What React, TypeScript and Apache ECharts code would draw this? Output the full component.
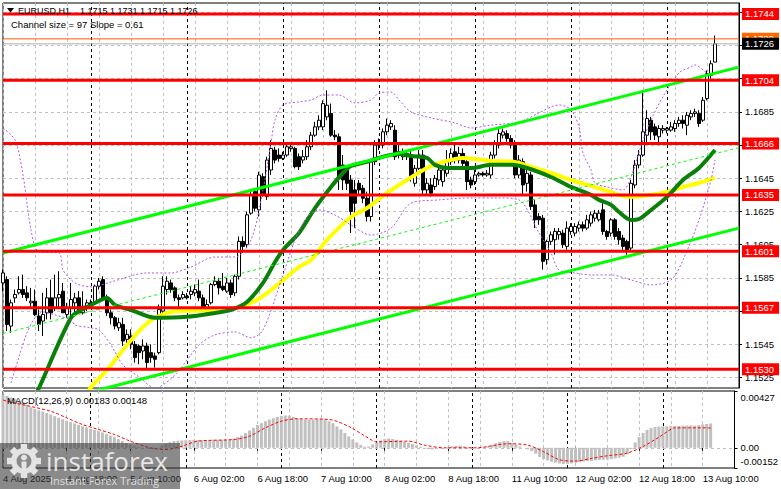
import React, { useEffect, useRef } from 'react';
import * as echarts from 'echarts';

const FONT = "'Liberation Sans', Arial, sans-serif";

// trading sessions: [day of Aug, first hour, last hour]
const sessionDays: [number, number, number][] = [
  [4, 2, 23], [5, 0, 23], [6, 0, 23], [7, 0, 23], [8, 0, 23], [11, 0, 23], [12, 0, 23], [13, 0, 18],
];
const categories: string[] = [];
sessionDays.forEach(([d, a, b]) => {
  for (let h = a; h <= b; h++) categories.push(`${d} Aug ${String(h).padStart(2, '0')}:00`);
});
const dayStarts = categories.filter((c, i) => i > 0 && c.endsWith(' 00:00'));

const timeLabels = [
  '4 Aug 2025', '4 Aug 18:00', '5 Aug 10:00', '6 Aug 02:00', '6 Aug 18:00', '7 Aug 10:00',
  '8 Aug 02:00', '8 Aug 18:00', '11 Aug 10:00', '12 Aug 02:00', '12 Aug 18:00', '13 Aug 10:00',
];
const priceTicks = [1.1525, 1.1545, 1.1565, 1.1585, 1.1605, 1.1625, 1.1645, 1.1665, 1.1685, 1.1705, 1.1725, 1.1745];
// tick labels that are not covered by the level boxes
const priceTickLabels = [1.1525, 1.1545, 1.1585, 1.1605, 1.1625, 1.1645, 1.1685];
const levels = [1.1744, 1.1704, 1.1666, 1.1635, 1.1601, 1.1567, 1.1530];
const bidPrice = 1.1726;
const askPrice = 1.1729;
const macdTicks = [0.00427, 0, -0.00152];
const titleParts = ['EURUSD,H1', '1.1715', '1.1731', '1.1715', '1.1726'];

// [open, close, low, high]
const candles: number[][] = [
  [1.1582,1.1588,1.1577,1.1590],[1.1584,1.1557,1.1553,1.1586],[1.1556,1.1570,1.1552,1.1572],[1.1573,1.1575,1.1570,1.1578],
  [1.1576,1.1578,1.1575,1.1586],[1.1578,1.1575,1.1573,1.1587],[1.1576,1.1573,1.1571,1.1580],[1.1570,1.1571,1.1567,1.1579],
  [1.1571,1.1563,1.1562,1.1578],[1.1562,1.1557,1.1553,1.1566],[1.1559,1.1563,1.1550,1.1576],[1.1564,1.1573,1.1560,1.1579],
  [1.1573,1.1564,1.1560,1.1584],[1.1567,1.1573,1.1565,1.1587],[1.1573,1.1575,1.1567,1.1589],[1.1577,1.1564,1.1564,1.1582],
  [1.1563,1.1567,1.1561,1.1570],[1.1567,1.1572,1.1561,1.1582],[1.1570,1.1573,1.1564,1.1576],[1.1573,1.1564,1.1564,1.1577],
  [1.1564,1.1568,1.1563,1.1577],[1.1567,1.1570,1.1565,1.1572],[1.1570,1.1569,1.1567,1.1572],[1.1570,1.1580,1.1569,1.1581],
  [1.1580,1.1583,1.1578,1.1585],[1.1584,1.1572,1.1571,1.1586],[1.1573,1.1564,1.1562,1.1575],[1.1564,1.1561,1.1557,1.1566],
  [1.1561,1.1556,1.1554,1.1562],[1.1555,1.1558,1.1553,1.1561],[1.1557,1.1547,1.1544,1.1561],[1.1548,1.1551,1.1545,1.1554],
  [1.1550,1.1545,1.1542,1.1554],[1.1545,1.1537,1.1534,1.1547],[1.1544,1.1540,1.1533,1.1545],[1.1541,1.1544,1.1536,1.1548],
  [1.1544,1.1534,1.1530,1.1546],[1.1540,1.1537,1.1534,1.1545],[1.1538,1.1536,1.1531,1.1540],[1.1540,1.1566,1.1539,1.1569],
  [1.1565,1.1580,1.1563,1.1586],[1.1578,1.1583,1.1575,1.1586],[1.1582,1.1578,1.1576,1.1584],[1.1579,1.1573,1.1571,1.1580],
  [1.1573,1.1572,1.1567,1.1575],[1.1573,1.1575,1.1572,1.1577],[1.1574,1.1573,1.1572,1.1576],[1.1575,1.1577,1.1572,1.1580],
  [1.1576,1.1578,1.1574,1.1581],[1.1577,1.1573,1.1571,1.1584],[1.1573,1.1567,1.1566,1.1575],[1.1566,1.1569,1.1564,1.1572],
  [1.1570,1.1581,1.1569,1.1582],[1.1581,1.1583,1.1580,1.1586],[1.1583,1.1579,1.1575,1.1585],[1.1580,1.1578,1.1577,1.1588],
  [1.1577,1.1582,1.1576,1.1585],[1.1582,1.1575,1.1573,1.1584],[1.1576,1.1586,1.1574,1.1587],[1.1586,1.1607,1.1584,1.1610],
  [1.1607,1.1604,1.1600,1.1610],[1.1605,1.1623,1.1603,1.1625],[1.1624,1.1635,1.1623,1.1637],[1.1637,1.1627,1.1625,1.1639],
  [1.1626,1.1647,1.1622,1.1649],[1.1646,1.1635,1.1634,1.1648],[1.1634,1.1656,1.1632,1.1658],[1.1650,1.1663,1.1647,1.1668],
  [1.1662,1.1656,1.1654,1.1664],[1.1659,1.1657,1.1655,1.1663],[1.1657,1.1659,1.1656,1.1661],[1.1659,1.1664,1.1658,1.1665],
  [1.1663,1.1664,1.1661,1.1666],[1.1663,1.1652,1.1651,1.1664],[1.1658,1.1652,1.1650,1.1660],[1.1656,1.1658,1.1654,1.1662],
  [1.1658,1.1664,1.1656,1.1668],[1.1664,1.1671,1.1662,1.1673],[1.1671,1.1676,1.1670,1.1679],[1.1676,1.1680,1.1674,1.1683],
  [1.1676,1.1690,1.1674,1.1692],[1.1682,1.1689,1.1680,1.1698],[1.1684,1.1671,1.1670,1.1690],[1.1671,1.1670,1.1668,1.1674],
  [1.1670,1.1645,1.1638,1.1672],[1.1653,1.1644,1.1638,1.1659],[1.1650,1.1642,1.1638,1.1653],[1.1644,1.1625,1.1612,1.1647],
  [1.1638,1.1630,1.1615,1.1644],[1.1642,1.1638,1.1635,1.1644],[1.1639,1.1633,1.1630,1.1641],[1.1633,1.1622,1.1619,1.1637],
  [1.1622,1.1655,1.1619,1.1656],[1.1655,1.1665,1.1653,1.1668],[1.1665,1.1666,1.1662,1.1669],[1.1665,1.1673,1.1663,1.1675],
  [1.1673,1.1677,1.1671,1.1681],[1.1676,1.1678,1.1674,1.1680],[1.1674,1.1658,1.1656,1.1677],[1.1661,1.1659,1.1657,1.1665],
  [1.1658,1.1661,1.1656,1.1663],[1.1660,1.1658,1.1656,1.1662],[1.1659,1.1646,1.1643,1.1662],[1.1642,1.1651,1.1640,1.1653],
  [1.1651,1.1659,1.1650,1.1662],[1.1659,1.1638,1.1635,1.1662],[1.1638,1.1642,1.1635,1.1645],[1.1641,1.1636,1.1634,1.1645],
  [1.1640,1.1645,1.1638,1.1647],[1.1644,1.1650,1.1641,1.1653],[1.1643,1.1650,1.1640,1.1651],[1.1648,1.1656,1.1646,1.1662],
  [1.1655,1.1660,1.1653,1.1663],[1.1661,1.1656,1.1654,1.1665],[1.1656,1.1660,1.1654,1.1664],[1.1660,1.1654,1.1652,1.1663],
  [1.1655,1.1643,1.1638,1.1657],[1.1644,1.1641,1.1639,1.1646],[1.1643,1.1647,1.1641,1.1650],[1.1647,1.1648,1.1646,1.1649],
  [1.1648,1.1647,1.1646,1.1649],[1.1647,1.1648,1.1646,1.1650],[1.1647,1.1659,1.1645,1.1661],[1.1659,1.1666,1.1657,1.1668],
  [1.1665,1.1672,1.1663,1.1676],[1.1671,1.1673,1.1669,1.1675],[1.1672,1.1669,1.1667,1.1674],[1.1669,1.1665,1.1663,1.1671],
  [1.1666,1.1647,1.1645,1.1668],[1.1647,1.1656,1.1645,1.1659],[1.1655,1.1641,1.1635,1.1657],[1.1642,1.1648,1.1637,1.1650],
  [1.1647,1.1628,1.1626,1.1649],[1.1629,1.1620,1.1615,1.1632],[1.1622,1.1620,1.1617,1.1624],[1.1621,1.1595,1.1590,1.1623],
  [1.1596,1.1607,1.1593,1.1608],[1.1607,1.1611,1.1605,1.1613],[1.1608,1.1613,1.1599,1.1615],[1.1611,1.1613,1.1608,1.1615],
  [1.1612,1.1605,1.1603,1.1614],[1.1604,1.1615,1.1602,1.1619],[1.1613,1.1616,1.1611,1.1618],[1.1612,1.1616,1.1610,1.1618],
  [1.1615,1.1617,1.1613,1.1619],[1.1617,1.1615,1.1613,1.1619],[1.1615,1.1620,1.1614,1.1623],[1.1618,1.1623,1.1616,1.1625],
  [1.1621,1.1624,1.1619,1.1626],[1.1620,1.1624,1.1619,1.1626],[1.1626,1.1613,1.1611,1.1630],[1.1613,1.1610,1.1608,1.1614],
  [1.1612,1.1620,1.1610,1.1621],[1.1620,1.1610,1.1608,1.1621],[1.1613,1.1608,1.1605,1.1615],[1.1609,1.1604,1.1602,1.1611],
  [1.1607,1.1602,1.1599,1.1608],[1.1603,1.1642,1.1601,1.1644],[1.1641,1.1653,1.1639,1.1656],[1.1653,1.1659,1.1651,1.1662],
  [1.1659,1.1673,1.1658,1.1698],[1.1671,1.1681,1.1666,1.1686],[1.1680,1.1673,1.1668,1.1682],[1.1676,1.1671,1.1668,1.1678],
  [1.1670,1.1675,1.1665,1.1677],[1.1674,1.1675,1.1672,1.1677],[1.1674,1.1675,1.1672,1.1676],[1.1674,1.1676,1.1673,1.1679],
  [1.1675,1.1678,1.1673,1.1680],[1.1678,1.1680,1.1676,1.1682],[1.1680,1.1678,1.1675,1.1683],[1.1677,1.1683,1.1671,1.1685],
  [1.1682,1.1684,1.1680,1.1686],[1.1684,1.1685,1.1682,1.1687],[1.1684,1.1678,1.1676,1.1686],[1.1680,1.1692,1.1679,1.1694],
  [1.1693,1.1708,1.1692,1.1710],[1.1707,1.1714,1.1705,1.1716],[1.1715,1.1726,1.1715,1.1731],
];

// [bar index, price]
const maGreen = [
  [8,1.15145],[9,1.15187],[17,1.1561],[20,1.15663],[22,1.15687],[26,1.15729],[28,1.15687],[32,1.15657],[38,1.1561],
  [46,1.15616],[53,1.15639],[57,1.15657],[61,1.15705],[65,1.1582],[68,1.15946],[70,1.16018],[74,1.16121],[78,1.16271],
  [82,1.16398],[85,1.16482],[87,1.16524],[91,1.16549],[94,1.16573],[97,1.16591],[99,1.16597],[102,1.16585],[106,1.16573],
  [108,1.16531],[111,1.16512],[117,1.16512],[122,1.16531],[127,1.16531],[131,1.16512],[137,1.16458],[142,1.16398],
  [147,1.1635],[149,1.1632],[152,1.1629],[154,1.16247],[157,1.16199],[159,1.16205],[162,1.16259],[166,1.16338],
  [170,1.1644],[174,1.16512],[178,1.1662],
];
const maYellow = [
  [21,1.15145],[22,1.15193],[26,1.15295],[31,1.15446],[35,1.15555],[38,1.1561],[42,1.15645],[46,1.15651],[53,1.15657],
  [57,1.15663],[62,1.15699],[66,1.15759],[70,1.15837],[74,1.15916],[77,1.15958],[81,1.16079],[87,1.16217],[91,1.16271],
  [96,1.16362],[101,1.1644],[106,1.16512],[110,1.16549],[115,1.16573],[122,1.16555],[128,1.16549],[132,1.16519],
  [137,1.16482],[142,1.1644],[147,1.16404],[152,1.16368],[154,1.1635],[157,1.16338],[162,1.1635],[166,1.16368],
  [170,1.16398],[174,1.16422],[178,1.16453],
];
const bandUpper = [
  [0,1.16753],[3,1.16681],[5,1.1647],[7,1.16139],[9,1.16007],[14,1.16001],[15,1.15898],[18,1.1582],[22,1.15796],
  [27,1.15826],[36,1.1588],[42,1.1588],[47,1.15916],[53,1.15976],[58,1.15976],[62,1.16079],[65,1.1638],[67,1.16663],
  [68,1.16802],[70,1.16892],[74,1.1691],[77,1.16922],[80,1.16952],[84,1.16952],[88,1.16904],[92,1.16922],[94,1.16964],
  [97,1.1697],[99,1.16922],[102,1.1685],[107,1.16814],[113,1.16784],[117,1.16753],[122,1.16771],[129,1.16789],
  [134,1.16844],[137,1.1688],[139,1.16892],[142,1.16862],[144,1.1676],[145,1.16603],[147,1.165],[148,1.16422],
  [151,1.16398],[155,1.1638],[157,1.16458],[160,1.16681],[162,1.16802],[165,1.16942],[169,1.17085],[172,1.17121],
  [173,1.17133],[176,1.17085],[178,1.17073],
];
const bandLower = [
  [2,1.15217],[4,1.15374],[6,1.15519],[8,1.1561],[10,1.15645],[13,1.15627],[17,1.15597],[18,1.15567],[22,1.15549],
  [24,1.15537],[27,1.15446],[30,1.15326],[34,1.15254],[38,1.15187],[43,1.15266],[49,1.15446],[53,1.15507],[58,1.15525],
  [62,1.15489],[65,1.15537],[70,1.15868],[73,1.16079],[76,1.16217],[79,1.16259],[83,1.16229],[87,1.16169],[92,1.16108],
  [97,1.1615],[102,1.163],[109,1.1632],[117,1.16332],[124,1.16332],[129,1.1632],[134,1.16121],[137,1.16],[139,1.15898],
  [143,1.1588],[147,1.15868],[152,1.15868],[157,1.15838],[162,1.15808],[167,1.15838],[170,1.15958],[174,1.16199],
  [177,1.1644],[178,1.16561],
];
const channelUpper = [[0, 1.16], [184, 1.1712]];
const channelMiddle = [[0, 1.15515], [184, 1.16635]];
const channelLower = [[0, 1.1503], [184, 1.1615]];

const macdHist = [
  0.004,0.0039,0.00378,0.00365,0.00352,0.0034,0.00322,0.00305,0.00293,0.00282,0.00272,0.00262,0.0025,0.00238,0.00226,
  0.00214,0.00203,0.00193,0.00183,0.00172,0.00162,0.00153,0.00143,0.00134,0.00125,0.00115,0.00103,0.00091,0.0008,0.00065,
  0.0005,0.00037,0.00025,0.00015,0.00008,0.00002,-0.00004,-0.00008,-0.0001,-0.00002,0.00015,0.0003,0.00042,0.0005,0.00053,
  0.00055,0.00057,0.00058,0.0006,0.00058,0.00056,0.00055,0.00058,0.0006,0.0006,0.0006,0.00061,0.00063,0.00068,0.0008,
  0.00092,0.0011,0.0013,0.0015,0.00172,0.00185,0.002,0.00212,0.00222,0.00232,0.0024,0.00243,0.00242,0.00232,0.00222,
  0.00216,0.00212,0.00211,0.00212,0.00214,0.00216,0.00213,0.002,0.00185,0.0016,0.00138,0.00112,0.00085,0.00062,0.0004,
  0.00022,0.00008,0.0001,0.00025,0.0004,0.00055,0.00065,0.0007,0.00066,0.0006,0.00052,0.00045,0.00038,0.00028,0.00018,
  0.00008,-0.00004,-0.0001,-0.00012,-0.00008,-0.00004,0,0.00006,0.00011,0.00015,0.00017,0.0001,0.00003,0,0.00001,
  0.00002,0.00004,0.0001,0.0002,0.00035,0.00045,0.0005,0.0005,0.00038,0.00025,0.0001,0,-0.00012,-0.00025,-0.00045,
  -0.0007,-0.00085,-0.00095,-0.00105,-0.00112,-0.00118,-0.00121,-0.0012,-0.00117,-0.00112,-0.00108,-0.00104,-0.00101,
  -0.00099,-0.00095,-0.00092,-0.0009,-0.00088,-0.00085,-0.0008,-0.00075,-0.00068,-0.0005,-0.0001,0.0004,0.0008,0.00112,
  0.00135,0.00148,0.00156,0.0016,0.00161,0.00162,0.00162,0.00163,0.00164,0.00166,0.00167,0.00168,0.00166,0.0017,0.00176,
  0.0018,0.00183,
];
const macdSignal = [
  [0,0.0036],[1,0.0035],[12,0.00275],[16,0.00225],[20,0.00175],[24,0.00138],[28,0.001],[32,0.0005],[37,0],[41,-0.00013],
  [45,0.00012],[49,0.0005],[58,0.00062],[62,0.00087],[66,0.0015],[70,0.002],[74,0.00218],[82,0.00213],[87,0.0016],
  [91,0.0009],[94,0.00045],[102,0.0005],[106,0.0002],[111,0],[119,0],[127,0.0003],[132,0.0002],[136,-0.0003],
  [140,-0.0009],[144,-0.001],[148,-0.0008],[152,-0.0006],[157,-0.0004],[161,0.0001],[165,0.0008],[167,0.0012],
  [169,0.0015],[177,0.0015],[178,0.00148],
];

const labelText = { fontFamily: FONT, fontSize: 9.5, color: '#000' };
const dashGray = { color: '#c0c0c0', type: [3, 3], width: 1 };
const dayLineData = dayStarts.map((c) => ({ xAxis: c }));
const LAST = categories.length - 1;

function levelSeries(value: number, lineColor: string, boxColor: string, width: number, z: number) {
  return {
    type: 'line', name: `level ${value}`, xAxisIndex: 0, yAxisIndex: 0,
    data: [[0, value], [LAST, value]], showSymbol: false, silent: true, z,
    lineStyle: { color: lineColor, width, type: 'solid' },
    endLabel: {
      show: true, formatter: () => value.toFixed(4), distance: 3,
      backgroundColor: boxColor, color: '#ffffff', padding: [1, 5, 1, 3], fontFamily: FONT, fontSize: 9.5,
    },
    labelLayout: { hideOverlap: false },
  };
}

function buildGear(cx: number, cy: number) {
  const fill = '#e4e4e4';
  const teeth = Array.from({ length: 8 }, (_, k) => ({
    type: 'rect', x: cx, y: cy, rotation: (k * Math.PI) / 4,
    shape: { x: -3.2, y: -17, width: 6.4, height: 6 }, style: { fill }, z: 101,
  }));
  return [
    ...teeth,
    { type: 'ring', shape: { cx, cy, r: 13, r0: 7.5 }, style: { fill }, z: 101 },
    { type: 'circle', shape: { cx, cy: cy - 3.5, r: 3 }, style: { fill }, z: 101 },
    { type: 'rect', shape: { x: cx - 2.5, y: cy + 0.5, width: 5, height: 14 }, style: { fill }, z: 101 },
  ];
}

export default function App() {
  const ref = useRef<HTMLDivElement>(null);
  useEffect(() => {
    document.body.style.margin = '0';
    const chart = echarts.init(ref.current!, null, { renderer: 'svg' });
    const titleX = [18, 80, 110, 140, 170];
    const option: any = {
      animation: false,
      backgroundColor: '#ffffff',
      textStyle: { fontFamily: FONT },
      grid: [
        { left: 3, top: 3, width: 736, height: 385, show: true, borderColor: '#000', borderWidth: 1, backgroundColor: 'transparent' },
        { left: 3, top: 391, width: 736, height: 77, show: true, borderColor: '#000', borderWidth: 1, backgroundColor: 'transparent' },
      ],
      xAxis: [
        {
          type: 'category', gridIndex: 0, data: categories, boundaryGap: false,
          axisLine: { show: false }, axisTick: { show: false }, axisLabel: { show: false },
          splitLine: { show: true, interval: (i: number) => i % 8 === 0, lineStyle: dashGray },
        },
        {
          type: 'category', gridIndex: 1, data: categories, boundaryGap: false,
          axisLine: { show: false },
          axisTick: { show: true, interval: (i: number) => i % 16 === 0 && i <= 176, length: 3, lineStyle: { color: '#000' } },
          axisLabel: {
            ...labelText, interval: (i: number) => i % 16 === 0 && i <= 176, align: 'left', margin: 5,
            formatter: (_v: string, i: number) => timeLabels[Math.round(i / 16)] ?? '',
          },
          splitLine: { show: true, interval: (i: number) => i % 8 === 0, lineStyle: dashGray },
        },
      ],
      yAxis: [
        {
          type: 'value', gridIndex: 0, position: 'right', min: 1.15187, max: 1.17506,
          axisLine: { show: true, lineStyle: { color: '#000' } },
          axisTick: { show: true, customValues: priceTicks, length: 3, lineStyle: { color: '#000' } },
          axisLabel: { ...labelText, customValues: priceTickLabels, margin: 6, formatter: (v: number) => v.toFixed(4) },
          splitLine: { show: true, lineStyle: dashGray },
        },
        {
          type: 'value', gridIndex: 1, position: 'right', min: -0.00152, max: 0.00427,
          axisLine: { show: true, lineStyle: { color: '#000' } },
          axisTick: { show: true, customValues: macdTicks, length: 3, lineStyle: { color: '#000' } },
          axisLabel: {
            ...labelText, customValues: macdTicks, margin: 6,
            formatter: (v: number) => (v > 0.001 ? '{t|0.00427}' : v < -0.001 ? '{b|-0.00152}' : '0.00'),
            rich: {
              t: { fontFamily: FONT, fontSize: 9.5, color: '#000', padding: [12, 0, 0, 0] },
              b: { fontFamily: FONT, fontSize: 9.5, color: '#000', padding: [0, 0, 14, 0] },
            },
          },
          splitLine: { show: false },
        },
      ],
      series: [
        {
          type: 'candlestick', name: 'EURUSD', xAxisIndex: 0, yAxisIndex: 0, data: candles, barWidth: 3, z: 2,
          itemStyle: { color: '#ffffff', color0: '#000000', borderColor: '#000000', borderColor0: '#000000', borderColorDoji: '#000000', borderWidth: 1 },
          markLine: {
            silent: true, symbol: ['none', 'none'], z: 1, label: { show: false },
            lineStyle: { color: '#000', type: [3, 3], width: 1 }, data: dayLineData,
          },
        },
        {
          type: 'line', name: 'MA yellow', data: maYellow, showSymbol: false, smooth: 0.3, z: 3,
          lineStyle: { color: '#ffff00', width: 4 },
        },
        {
          type: 'line', name: 'MA green', data: maGreen, showSymbol: false, smooth: 0.3, z: 3,
          lineStyle: { color: '#0a800a', width: 4 },
        },
        {
          type: 'line', name: 'Band upper', data: bandUpper, showSymbol: false, smooth: 0.3, z: 3,
          lineStyle: { color: '#b455ea', width: 1, type: [2, 2] },
        },
        {
          type: 'line', name: 'Band lower', data: bandLower, showSymbol: false, smooth: 0.3, z: 3,
          lineStyle: { color: '#b455ea', width: 1, type: [2, 2] },
        },
        {
          type: 'line', name: 'Channel middle', data: channelMiddle, showSymbol: false, z: 4,
          lineStyle: { color: '#00ff00', width: 1, type: [3, 3] },
        },
        {
          type: 'line', name: 'Channel lower', data: channelLower, showSymbol: false, z: 4,
          lineStyle: { color: '#00ff00', width: 3 },
        },
        {
          type: 'line', name: 'Channel upper', data: channelUpper, showSymbol: false, z: 4,
          lineStyle: { color: '#00ff00', width: 3 },
        },
        levelSeries(askPrice, '#ff5a00', '#ff6a00', 1, 5),
        levelSeries(bidPrice, '#b0b0b0', '#000000', 1, 6),
        ...levels.map((v) => levelSeries(v, '#ff0000', '#ff0000', 3, 7)),
        {
          type: 'bar', name: 'MACD', xAxisIndex: 1, yAxisIndex: 1, data: macdHist, barWidth: 3, z: 2,
          itemStyle: { color: '#c0c0c0' },
          markLine: {
            silent: true, symbol: ['none', 'none'], z: 1, label: { show: false },
            data: [
              ...dayLineData.map((d) => ({ ...d, lineStyle: { color: '#000', type: [3, 3], width: 1 } })),
              { yAxis: 0, lineStyle: { color: '#c0c0c0', type: [3, 3], width: 1 } },
            ],
          },
        },
        {
          type: 'line', name: 'Signal', xAxisIndex: 1, yAxisIndex: 1, data: macdSignal, showSymbol: false, smooth: 0.3, z: 3,
          lineStyle: { color: '#ff0000', width: 1, type: [3, 2] },
        },
      ],
      graphic: [
        { type: 'polygon', shape: { points: [[7, 8], [14, 8], [10.5, 12.5]] }, style: { fill: '#000' }, z: 100 },
        ...titleParts.map((t, k) => ({
          type: 'text', x: titleX[k], y: 10.5,
          style: { text: t, fill: '#000', font: `9px ${FONT}`, verticalAlign: 'middle' }, z: 100,
        })),
        { type: 'text', x: 11, y: 24, style: { text: 'Channel size = 97 Slope = 0.61', fill: '#000', font: `9.5px ${FONT}`, verticalAlign: 'middle' }, z: 100 },
        { type: 'text', x: 7, y: 400, style: { text: 'MACD(12,26,9) 0.00183 0.00148', fill: '#000', font: `9.5px ${FONT}`, verticalAlign: 'middle' }, z: 100 },
        { type: 'rect', shape: { x: 0, y: 443, width: 180, height: 46 }, style: { fill: 'rgba(60,60,60,0.6)' }, z: 100 },
        ...buildGear(24, 461),
        { type: 'text', x: 46, y: 461, style: { text: 'instaforex', fill: '#e6e6e6', font: `26px 'Open Sans', sans-serif`, verticalAlign: 'middle' }, z: 101 },
        { type: 'text', x: 50, y: 480, style: { text: 'Instant Forex Trading', fill: '#dedede', font: `11px 'Open Sans', sans-serif`, verticalAlign: 'middle' }, z: 101 },
      ],
    };
    chart.setOption(option);
    return () => chart.dispose();
  }, []);
  return <div ref={ref} style={{ width: 781, height: 489 }} />;
}
